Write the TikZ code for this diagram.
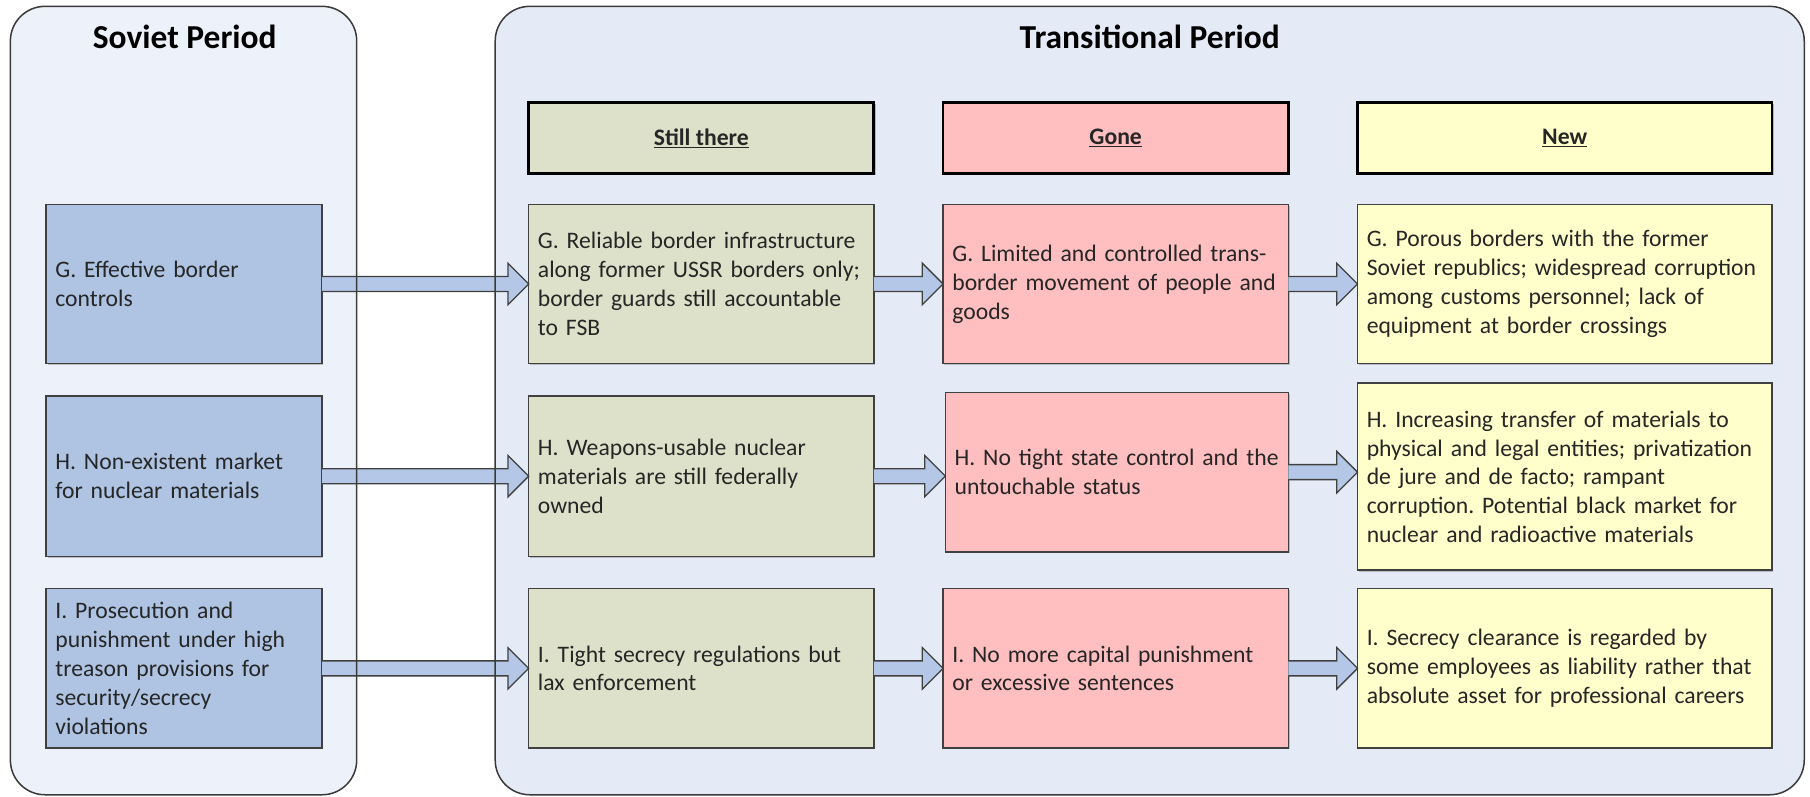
\documentclass[tikz,border=0pt]{standalone}
\usepackage{fontspec}
\setmainfont{Carlito}
\frenchspacing
\usetikzlibrary{shadows}
\definecolor{sovpanel}{HTML}{EDF1F9}
\definecolor{trpanel}{HTML}{E5EBF6}
\definecolor{panelline}{HTML}{3A3A3A}
\definecolor{boxline}{HTML}{404040}
\definecolor{sovfill}{HTML}{AFC3E3}
\definecolor{stillfill}{HTML}{DDE1CA}
\definecolor{gonefill}{HTML}{FFBEBF}
\definecolor{newfill}{HTML}{FFFFCC}
\definecolor{arrfill}{HTML}{B4C7E7}
\definecolor{txt}{HTML}{262626}
\newcommand{\fatarrow}[2]{%
  \coordinate (#1#2t) at (#1.east -| #2.west);
  \filldraw[arr] ([shift={(0,-6.5)}]#1.east) -- ([shift={(-18,-6.5)}]#1#2t) -- ([shift={(-18,-18)}]#1#2t) -- (#1#2t) -- ([shift={(-18,18)}]#1#2t) -- ([shift={(-18,6.5)}]#1#2t) -- ([shift={(0,6.5)}]#1.east);}
\begin{document}
\begin{tikzpicture}[x=1pt,y=-1pt,
  panelbox/.style={rounded corners=30pt, line width=1.3pt, draw=panelline},
  cell/.style={draw=boxline, line width=1.3pt, inner xsep=8pt, inner ysep=0pt, outer sep=0pt,
    align=left, text=txt, font=\fontsize{20.5}{25}\selectfont,
    drop shadow={shadow xshift=1.2pt, shadow yshift=-1.2pt, fill=black!45, opacity=0.5}},
  sov/.style={cell, fill=sovfill, minimum width=239pt, text width=223pt},
  still/.style={cell, fill=stillfill, minimum width=299pt, text width=283pt},
  gone/.style={cell, fill=gonefill, minimum width=299pt, text width=283pt},
  new/.style={cell, fill=newfill, minimum width=359pt, text width=343pt},
  head/.style={line width=2.4pt, draw=black, minimum height=61pt, align=center,
    font=\fontsize{20.5}{25}\selectfont\bfseries, text=txt,
    drop shadow={shadow xshift=1.5pt, shadow yshift=-1.5pt, fill=black!50, opacity=0.5}},
  title/.style={font=\fontsize{29}{34}\selectfont\bfseries, text=black},
  arr/.style={fill=arrfill, draw=boxline, line width=1.1pt, line join=miter}
]
\useasboundingbox (0,0) rectangle (1568,690.4);
% panel fills
\fill[sovpanel, rounded corners=30pt] (9,5.5) rectangle (309,688.5);
\fill[trpanel, rounded corners=30pt] (429,5.5) rectangle (1563,688.5);
% titles
\node[title] (tsov) at (160,32) {Soviet Period};
\node[title] (ttr) at (996,32) {Transitional Period};
% headers
\node[head, fill=stillfill, minimum width=299pt] (hstill) at (607.5,119.5) {\underline{Still there}};
\node[head, fill=gonefill, minimum width=299pt] (hgone) at (966.5,119.5) {\underline{Gone}};
\node[head, fill=newfill, minimum width=359pt] (hnew) at (1355.5,119.5) {\underline{New}};
% Soviet column
\node[sov, minimum height=138pt] (sg) at (159.5,246) {G. Effective border\\controls};
\node[sov, minimum height=139pt] (sh) at (159.5,412.5) {H. Non-existent market\\for nuclear materials};
\node[sov, minimum height=138pt] (si) at (159.5,579) {I. Prosecution and\\punishment under high\\treason provisions for\\security/secrecy\\violations};
% Still there column
\node[still, minimum height=138pt] (tg) at (607.5,246) {G. Reliable border infrastructure\\along former USSR borders only;\\border guards still accountable\\to FSB};
\node[still, minimum height=139pt] (th) at (607.5,412.5) {H. Weapons-usable nuclear\\materials are still federally\\owned};
\node[still, minimum height=138pt] (ti) at (607.5,579) {I. Tight secrecy regulations but\\lax enforcement};
% Gone column
\node[gone, minimum height=138pt] (gg) at (966.5,246) {G. Limited and controlled trans-\\border movement of people and\\goods};
\node[gone, minimum height=138pt, minimum width=297pt, text width=281pt] (gh) at (967.5,409) {H. No tight state control and the\\untouchable status};
\node[gone, minimum height=138pt] (gi) at (966.5,579) {I. No more capital punishment\\or excessive sentences};
% New column
\node[new, minimum height=138pt] (ng) at (1355.5,246) {G. Porous borders with the former\\Soviet republics; widespread corruption\\among customs personnel; lack of\\equipment at border crossings};
\node[new, minimum height=162pt] (nh) at (1355.5,413) {H. Increasing transfer of materials to\\physical and legal entities; privatization\\de jure and de facto; rampant\\corruption. Potential black market for\\nuclear and radioactive materials};
\node[new, minimum height=138pt] (ni) at (1355.5,579) {I. Secrecy clearance is regarded by\\some employees as liability rather that\\absolute asset for professional careers};
% arrows
\fatarrow{sg}{tg}
\fatarrow{sh}{th}
\fatarrow{si}{ti}
\fatarrow{tg}{gg}
\fatarrow{th}{gh}
\fatarrow{ti}{gi}
\fatarrow{gg}{ng}
\fatarrow{gh}{nh}
\fatarrow{gi}{ni}
% panel outlines
\draw[panelbox] (9,5.5) rectangle (309,688.5);
\draw[panelbox] (429,5.5) rectangle (1563,688.5);
\end{tikzpicture}
\end{document}
